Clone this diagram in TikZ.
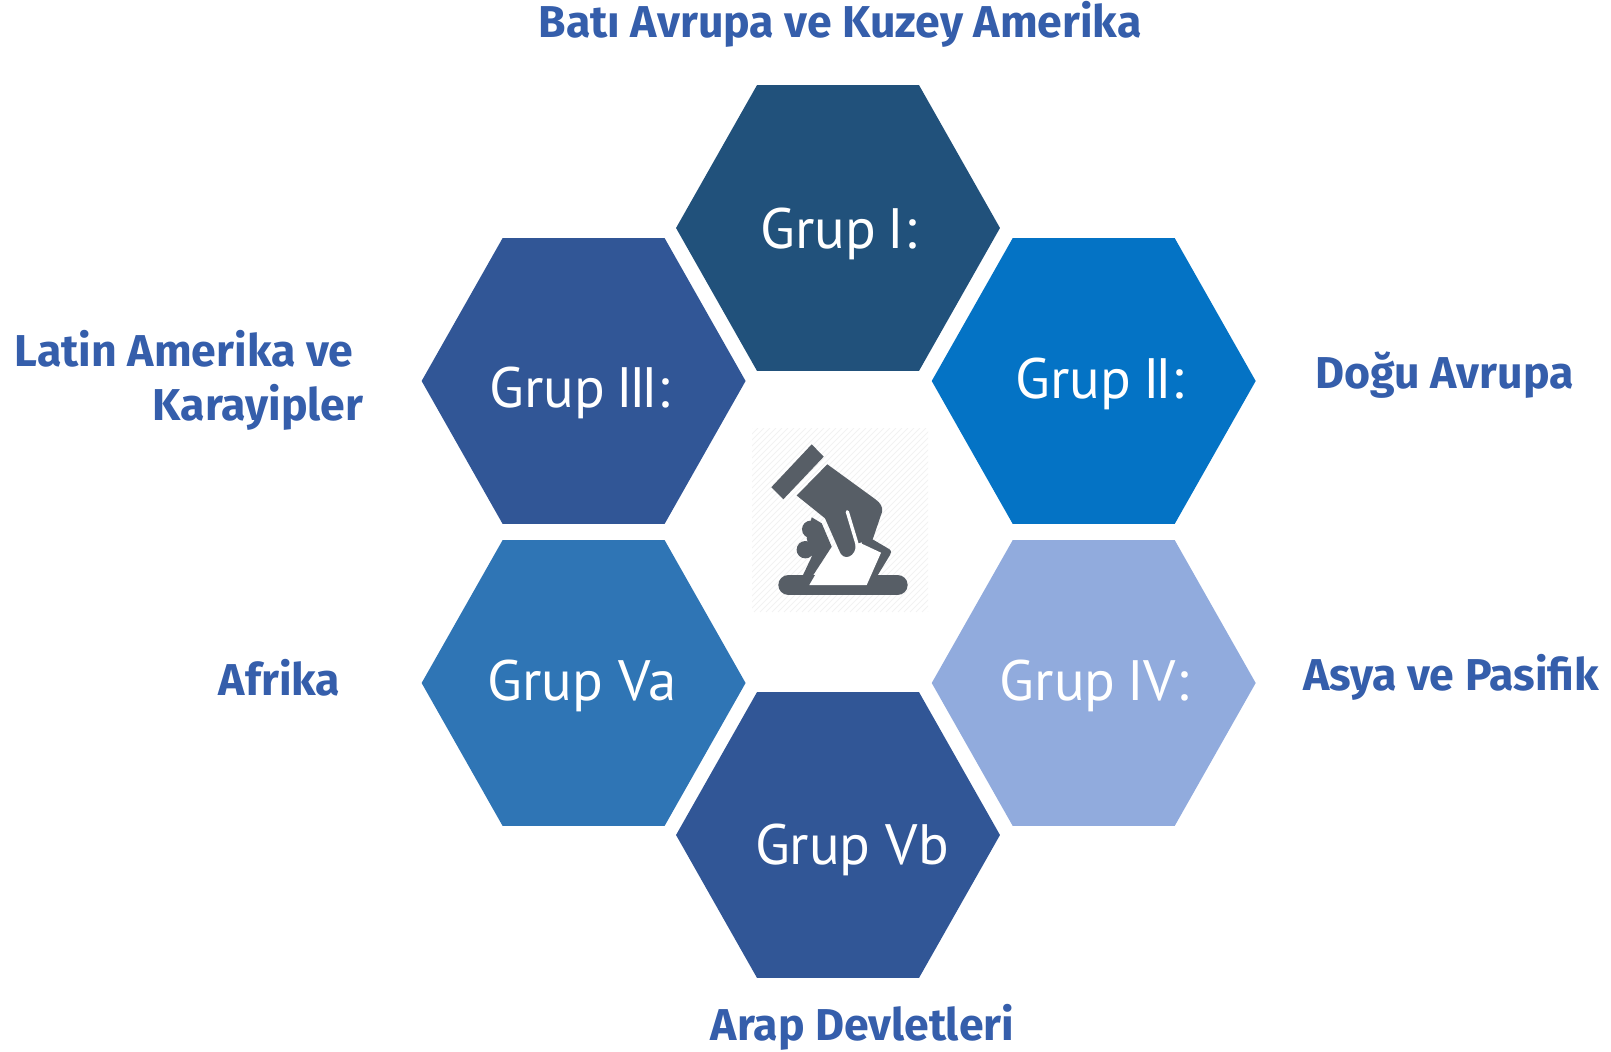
\documentclass[tikz,border=0pt]{standalone}
\usepackage{fontspec}
\setmainfont{PT Sans}
\newfontfamily\regionfont{Fira Sans}
\usepackage{xcolor}
\definecolor{hexnavy}{RGB}{33, 81, 123}
\definecolor{hexblue}{RGB}{4, 115, 197}
\definecolor{hexindigo}{RGB}{49, 86, 150}
\definecolor{hexpale}{RGB}{145, 171, 221}
\definecolor{hexsteel}{RGB}{47, 117, 181}
\definecolor{labelblue}{RGB}{53, 94, 171}
\definecolor{icongray}{RGB}{87, 94, 102}
\usetikzlibrary{shapes.geometric}

\begin{document}
\begin{tikzpicture}[
    x=0.02cm, y=-0.02cm,
    hexagon/.style={regular polygon, regular polygon sides=6, minimum size=6.48cm, inner sep=0pt, outer sep=0pt, yscale=1.019, transform shape},
    grouptext/.style={anchor=base, text=white, font=\fontsize{32.4}{36}\selectfont},
    region/.style={anchor=base, text=labelblue, font=\fontsize{25.4}{30}\selectfont\regionfont\bfseries}
]
    \useasboundingbox (0,0) rectangle (1611,1051);

    % Hexagons
    \node[hexagon, fill=hexnavy] (hexone) at (838,228) {};
    \node[hexagon, fill=hexblue] (hextwo) at (1093.7,381) {};
    \node[hexagon, fill=hexindigo] (hexthree) at (583.6,381) {};
    \node[hexagon, fill=hexpale] (hexfour) at (1093.7,683) {};
    \node[hexagon, fill=hexsteel] (hexfivea) at (583.6,683) {};
    \node[hexagon, fill=hexindigo] (hexfiveb) at (838,835) {};

    % Group names
    \node[grouptext] (grupone) at (838.5,248) {Grup\kern-2pt{} I:};
    \node[grouptext] (gruptwo) at (1100,398.6) {Grup\kern-2pt{} I\kern-2.5pt{}I:};
    \node[grouptext] (grupthree) at (580,407) {Grup\kern-2pt{} I\kern-2.5pt{}I\kern-2.5pt{}I:};
    \node[grouptext] (grupfour) at (1094.3,700) {Grup\kern-2pt{} IV:};
    \node[grouptext] (grupfivea) at (582,700.7) {Grup Va};
    \node[grouptext] (grupfiveb) at (852,864) {Grup Vb};

    % Regions
    \node[region] (west) at (840,38) {Batı Avrupa ve Kuzey Amerika};
    \node[region] (latin) at (184,366.7) {Latin Amerika ve};
    \node[region] (carib) at (258,420) {Karayipler};
    \node[region] (east) at (1444.5,388) {Doğu Avrupa};
    \node[region] (asia) at (1451,690) {Asya ve Pasifik};
    \node[region] (africa) at (279.5,695.5) {Afrika};
    \node[region] (arab) at (862.5,1040) {Arap Devletleri};

    % Ballot icon
    \begin{scope}
        \clip (752,428) rectangle (928,612);
        \foreach \d in {0,6,...,366}
            \draw[black!5, line width=0.5pt] (752+\d-184,612) -- (752+\d,428);
    \end{scope}
    \fill[icongray] (811.7,444.3) -- (823.7,456.7) -- (783.3,499.3) -- (771.3,487.3) -- cycle;
    \draw[icongray, line width=11.7pt, line cap=round] (788.6,585) -- (897.4,585);
    \fill[icongray] (872,539) -- (889,549) .. controls (892,551) and (891,553) .. (890,555) -- (876,578) -- (860,578) -- (862,540) -- cycle;
    \fill[white] (809.3,585) -- (866.7,585) -- (881,552.7) -- (856,541) -- (831.7,546.7) -- cycle;
    \fill[icongray] (811.7,517.3) -- (821.7,523.3) -- (831.7,546.7) -- (813.3,575) -- (803,575) -- (811.7,556.7) -- (806.7,538.3) -- cycle;
    \fill[icongray] (810.7,529.3) circle[radius=8.7];
    \fill[icongray] (805.3,549.7) circle[radius=8.7];
    \fill[icongray] (827.3,464.3) -- (875,499) .. controls (881,503) and (883,508) .. (882,512) -- (872.7,539.3) -- (855.5,544) .. controls (857,556) and (843,563) .. (839,550) -- (825,518.3) -- (796.7,495.5) -- cycle;
    \draw[white, line width=1.9pt, line cap=round] (847.3,511.7) -- (857.3,545);
\end{tikzpicture}
\end{document}
